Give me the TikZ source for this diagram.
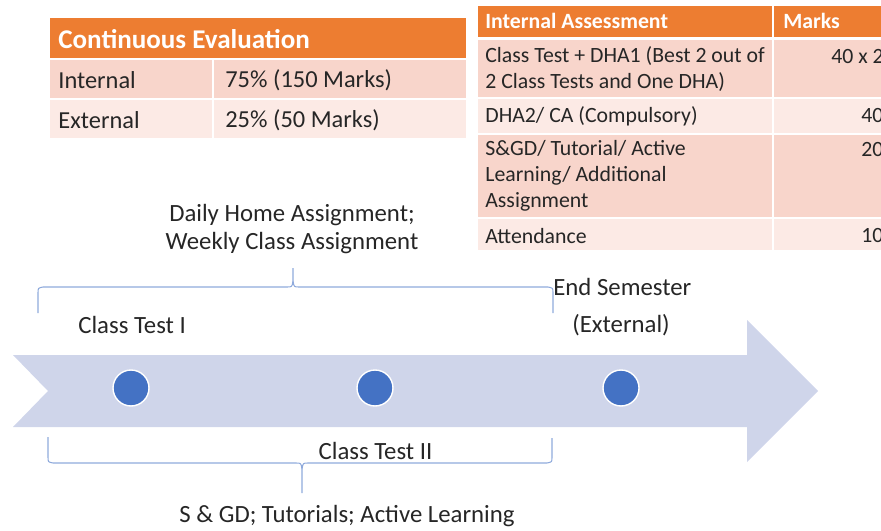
\documentclass[tikz,border=0pt]{standalone}
\usepackage{fontspec}
\setmainfont{Carlito}
\begin{document}
\begin{tikzpicture}[x=0.02cm, y=-0.02cm,
  txt/.style={text=inkcol, inner sep=0pt, font=\fontsize{14.1}{16.4}\selectfont},
  cell/.style={txt, anchor=west, font=\fontsize{13.9}{16}\selectfont},
  smallcell/.style={txt, anchor=west, align=left, font=\fontsize{12.4}{14.7}\selectfont},
  headcell/.style={text=white, inner sep=0pt, anchor=west, font=\fontsize{12.4}{14}\selectfont\bfseries},
  tcell/.style={draw=white, line width=1pt},
  dot/.style={circle, fill=dotcolor, draw=white, line width=0.8pt, minimum size=0.72cm, inner sep=0pt},
  bracket/.style={bracecolor, line width=0.6pt}]

\definecolor{headcolor}{RGB}{237, 125, 49}
\definecolor{rowdark}{RGB}{248, 213, 203}
\definecolor{rowlight}{RGB}{252, 234, 229}
\definecolor{arrowcolor}{RGB}{207, 213, 234}
\definecolor{dotcolor}{RGB}{68, 114, 196}
\definecolor{bracecolor}{RGB}{143, 170, 220}
\definecolor{inkcol}{RGB}{38, 38, 38}

\useasboundingbox (0,0) rectangle (881,530);

\filldraw[tcell, fill=headcolor] (49,17) rectangle (467,59);
\filldraw[tcell, fill=rowdark] (49,59) rectangle (213,99);
\filldraw[tcell, fill=rowdark] (213,59) rectangle (467,99);
\filldraw[tcell, fill=rowlight] (49,99) rectangle (213,139);
\filldraw[tcell, fill=rowlight] (213,99) rectangle (467,139);
\node[headcell, font=\fontsize{15.4}{18}\selectfont\bfseries] (cehead) at (58,39) {Continuous Evaluation};
\node[cell] (intname) at (58,80) {Internal};
\node[cell] (intval) at (225,80) {75\% (150 Marks)};
\node[cell] (extname) at (58,120) {External};
\node[cell] (extval) at (225,120) {25\% (50 Marks)};

\begin{scope}
\clip (0,0) rectangle (881,530);
\filldraw[tcell, fill=headcolor] (477,5) rectangle (773,38);
\filldraw[tcell, fill=headcolor] (773,5) rectangle (960,38);
\filldraw[tcell, fill=rowdark] (477,39) rectangle (773,98);
\filldraw[tcell, fill=rowdark] (773,39) rectangle (960,98);
\filldraw[tcell, fill=rowlight] (477,98) rectangle (773,134);
\filldraw[tcell, fill=rowlight] (773,98) rectangle (960,134);
\filldraw[tcell, fill=rowdark] (477,134) rectangle (773,218);
\filldraw[tcell, fill=rowdark] (773,134) rectangle (960,218);
\filldraw[tcell, fill=rowlight] (477,218) rectangle (773,251);
\filldraw[tcell, fill=rowlight] (773,218) rectangle (960,251);
\node[headcell] (iahead) at (485,21) {Internal Assessment};
\node[headcell] (markshead) at (783,21) {Marks};
\node[smallcell] (ctdha) at (485,69) {Class Test + DHA1 (Best 2 out of\\2 Class Tests and One DHA)};
\node[smallcell] (dhaca) at (485,116) {DHA2/ CA (Compulsory)};
\node[smallcell] (sgd) at (485,176) {S\&GD/ Tutorial/ Active\\Learning/ Additional\\Assignment};
\node[smallcell] (attend) at (485,236) {Attendance};
\node[smallcell] (ctdhamarks) at (831,57) {40 x 2};
\node[smallcell] (dhacamarks) at (861,116) {40};
\node[smallcell] (sgdmarks) at (861,150) {20};
\node[smallcell] (attendmarks) at (861,236) {10};
\end{scope}

\fill[arrowcolor] (13,355) -- (747,355) -- (747,320) -- (818,391) -- (747,462)
  -- (747,427) -- (13,427) -- (48,391) -- cycle;

\node[dot] (ct1) at (131,388) {};
\node[dot] (ct2) at (375,388) {};
\node[dot] (endsem) at (621,388) {};

% upper brace
\draw[bracket] (38,313) -- (38,293) .. controls (38,288) .. (43,287) -- (287,287)
  .. controls (292,287) .. (293,281) -- (293,268);
\draw[bracket] (293,281) .. controls (294,287) .. (299,287) -- (548,287)
  .. controls (553,288) .. (553,293) -- (553,313);

% lower brace
\draw[bracket] (48,437) -- (48,457) .. controls (48,462) .. (53,463) -- (296,463)
  .. controls (301,463) .. (302,469) -- (302,493);
\draw[bracket] (302,469) .. controls (303,463) .. (308,463) -- (547,463)
  .. controls (552,462) .. (552,457) -- (552,438);

\node[txt, align=center] (weekly) at (292,229) {Daily Home Assignment;\\Weekly Class Assignment};
\node[txt, anchor=west] (ct1lbl) at (78,325) {Class Test I};
\node[txt, anchor=west] (endlbl) at (553,287) {End Semester};
\node[txt] (extlbl) at (621,325) {(External)};
\node[txt] (ct2lbl) at (375.5,451) {Class Test II};
\node[txt] (sgdlbl) at (347,516) {S \& GD; Tutorials; Active Learning};

\end{tikzpicture}
\end{document}
